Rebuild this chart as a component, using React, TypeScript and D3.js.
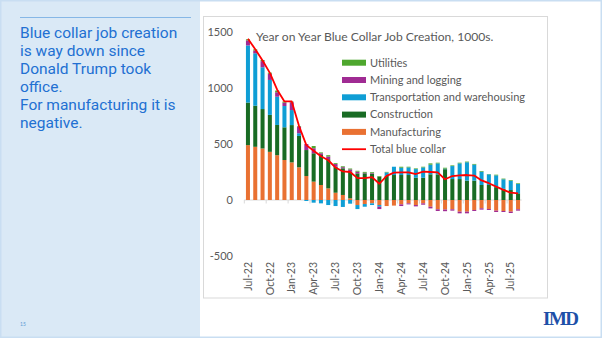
import React from "react";
import * as d3 from "d3";

const months = ["Jul-22","Aug-22","Sep-22","Oct-22","Nov-22","Dec-22","Jan-23","Feb-23","Mar-23","Apr-23","May-23","Jun-23","Jul-23","Aug-23","Sep-23","Oct-23","Nov-23","Dec-23","Jan-24","Feb-24","Mar-24","Apr-24","May-24","Jun-24","Jul-24","Aug-24","Sep-24","Oct-24","Nov-24","Dec-24","Jan-25","Feb-25","Mar-25","Apr-25","May-25","Jun-25","Jul-25","Aug-25"];

const manufacturing = [490,475,460,430,400,357,336,292,214,164,134,104,65,45,15,-45,-36,-30,-45,-54,-50,-39,-30,-45,-30,-60,-83,-85,-83,-104,-104,-89,-74,-80,-95,-98,-104,-83];
const construction = [380,367,352,330,270,292,333,280,232,253,268,260,232,238,238,238,238,235,208,216,223,223,223,199,199,229,229,275,187,187,173,173,134,134,115,100,89,60];
const transportation = [510,468,373,312,252,190,134,24,-9,-24,-30,-45,-54,-62,-33,-36,-24,-15,-15,30,74,65,68,77,92,86,98,5,116,140,164,143,119,95,105,85,83,83];
const mining = [45,25,55,55,40,30,70,60,54,45,15,24,24,10,20,15,5,5,-21,0,0,-15,-9,-12,-12,-15,-15,-15,-12,-15,-15,-9,-12,-9,-12,-9,-12,-12];
const utilities = [10,10,10,10,15,10,5,5,0,20,8,12,8,8,8,8,8,8,6,5,0,9,6,6,6,12,6,8,6,6,6,6,6,3,6,6,6,6];
const totalBlueCollar = [1440,1345,1245,1135,985,880,880,660,490,440,390,355,290,255,250,195,195,205,145,215,245,247,247,232,253,250,247,185,214,220,223,218,175,150,120,90,65,60];

const yTicks = [1500, 1000, 500, 0, -500];

const seriesNames = ["Manufacturing", "Construction", "Transportation and warehousing", "Mining and logging", "Utilities"];
const seriesValues = [manufacturing, construction, transportation, mining, utilities];
const seriesColors = ["#E97132", "#196B24", "#0F9ED5", "#A02B93", "#4EA72E"];
const legendOrder = ["Utilities", "Mining and logging", "Transportation and warehousing", "Construction", "Manufacturing"];

const leftText = ["Blue collar job creation", "is way down since", "Donald Trump took", "office.", "For manufacturing it is", "negative."];

export default function App() {
  const x = d3.scaleBand<string>().domain(months).range([244.3, 521.7]).paddingInner(0.45).paddingOuter(0.225);
  const y = d3.scaleLinear().domain([-500, 1500]).range([256, 32]);

  const rows = months.map((m, i) => {
    const r: any = { month: m };
    seriesNames.forEach((s, k) => (r[s] = seriesValues[k][i]));
    return r;
  });
  const stack = d3.stack<any>().keys(seriesNames).offset(d3.stackOffsetDiverging);
  const layers = stack(rows);

  const step = x.step();
  const x0 = 244.3;
  const cx = (m: string) => (x(m) as number) + x.bandwidth() / 2;

  const line = d3.line<number>().x((_, i) => cx(months[i])).y((d) => y(d));

  const tickIdx = d3.range(0, months.length + 1, 3);
  const gray = "#595959";
  const font = "Lato, 'Noto Sans', sans-serif";

  return (
    <svg width={602} height={338} style={{ position: "absolute", left: 0, top: 0 }} xmlns="http://www.w3.org/2000/svg">
      <rect x={0} y={0} width={602} height={338} fill="#ffffff" />
      <rect x={0} y={0} width={200} height={338} fill="#dae9f6" />
      <rect x={0.75} y={0.75} width={600.5} height={336.5} fill="none" stroke="#c9def2" strokeWidth={1.5} />
      <line x1={20} x2={191} y1={17.5} y2={17.5} stroke="#86b7e6" strokeWidth={1} />
      {leftText.map((t, i) => (
        <text key={i} x={20} y={38 + i * 18} fontFamily="Roboto, 'Noto Sans', sans-serif" fontSize={15.5} fill="#2270d2">{t}</text>
      ))}
      <text x={20} y={326} fontFamily={font} fontSize={5} fill="#5b9bd5">15</text>

      <rect x={203.5} y={16.5} width={344} height={281.5} fill="#ffffff" stroke="#d9d9d9" strokeWidth={1} />

      <text x={256} y={41} fontFamily={font} fontSize={12.1} fill={gray}>Year on Year Blue Collar Job Creation, 1000s.</text>

      {yTicks.map((t) => (
        <text key={t} x={233} y={y(t)} dy="0.35em" textAnchor="end" fontFamily={font} fontSize={11} fill={gray}>{t}</text>
      ))}

      <line x1={x0} x2={521.7} y1={y(0)} y2={y(0)} stroke="#d9d9d9" strokeWidth={1.2} />
      {tickIdx.map((i) => (
        <line key={i} x1={x0 + i * step} x2={x0 + i * step} y1={y(0)} y2={y(0) + 3.5} stroke="#d9d9d9" strokeWidth={1} />
      ))}

      {layers.map((layer, k) => (
        <g key={k} fill={seriesColors[k]}>
          {layer.map((d, i) => {
            const top = Math.min(y(d[0]), y(d[1]));
            const h = Math.abs(y(d[0]) - y(d[1]));
            return h > 0 ? <rect key={i} x={x(months[i])} y={top} width={x.bandwidth()} height={h} /> : null;
          })}
        </g>
      ))}

      <path d={line(totalBlueCollar) || ""} fill="none" stroke="#ff0000" strokeWidth={1.8} strokeLinejoin="round" />

      {months.map((m, i) =>
        i % 3 === 0 ? (
          <text key={m} transform={`translate(${cx(m)},262) rotate(-90)`} textAnchor="end" dy="0.35em" fontFamily={font} fontSize={10.5} fill={gray}>{m}</text>
        ) : null
      )}

      {legendOrder.map((name, j) => {
        const k = seriesNames.indexOf(name);
        const yy = 62.7 + j * 17.3;
        return (
          <g key={name}>
            <rect x={342} y={yy - 3} width={24} height={6} fill={seriesColors[k]} />
            <text x={370} y={yy} dy="0.35em" fontFamily={font} fontSize={11} fill={gray}>{name}</text>
          </g>
        );
      })}
      <line x1={342} x2={366} y1={62.7 + 5 * 17.3} y2={62.7 + 5 * 17.3} stroke="#ff0000" strokeWidth={1.8} />
      <text x={370} y={62.7 + 5 * 17.3} dy="0.35em" fontFamily={font} fontSize={11} fill={gray}>Total blue collar</text>

      <text x={543} y={325} fontFamily="'Liberation Serif', serif" fontWeight="bold" fontSize={19} letterSpacing={-1.5} fill="#1d50a8">IMD</text>
    </svg>
  );
}
